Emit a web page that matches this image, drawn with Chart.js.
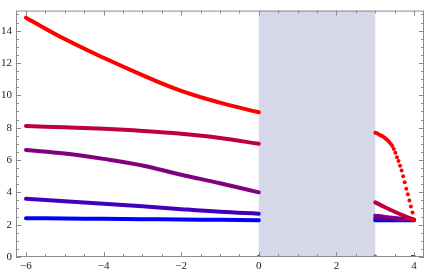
<!DOCTYPE html>
<html>
<head>
<meta charset="utf-8">
<script src="https://cdn.jsdelivr.net/npm/chart.js@4/dist/chart.umd.min.js"></script>
<style>
  html, body { margin: 0; padding: 0; background: #fff; }
  #wrap { width: 428px; height: 273px; }
</style>
</head>
<body>
<div id="wrap"><canvas id="chart"></canvas></div>
<script>
// DATA
const leftX = [-6, -5, -4, -3, -2, -1, 0];
const redLeft = [14.8, 13.48, 12.32, 11.25, 10.28, 9.55, 8.95];
const crimsonLeft = [8.1, 8.02, 7.93, 7.8, 7.62, 7.36, 7.0];
const purpleLeft = [6.62, 6.4, 6.07, 5.66, 5.09, 4.56, 4.0];
const indigoLeft = [3.6, 3.45, 3.3, 3.14, 2.96, 2.8, 2.68];
const blueLeft = [2.4, 2.38, 2.36, 2.34, 2.32, 2.3, 2.28];

const rightX = [3, 3.25, 3.5, 3.75, 4];
const crimsonRight = [3.38, 3.08, 2.8, 2.54, 2.3];
const purpleRight = [2.56, 2.48, 2.41, 2.35, 2.3];
const indigoRight = [2.4, 2.37, 2.34, 2.32, 2.3];
const blueRight = [2.28, 2.28, 2.28, 2.28, 2.28];

const redDotsX = [3.00, 3.04, 3.08, 3.12, 3.16, 3.20, 3.24, 3.28, 3.32, 3.36, 3.40, 3.44, 3.48,
  3.52, 3.56, 3.60, 3.64, 3.68, 3.72, 3.76, 3.80, 3.84, 3.88, 3.92, 3.96, 4.00];
const redDots = [7.68, 7.65, 7.6, 7.55, 7.5, 7.45, 7.38, 7.3, 7.22, 7.12, 7.0, 6.86, 6.68,
  6.45, 6.17, 5.93, 5.65, 5.35, 5.0, 4.62, 4.22, 3.88, 3.5, 3.12, 2.75, 2.3];

const axisDotsX = [0, 3, 3.96, 4];
const axisDots = [0, 0, 0, 0];

const gapRange = [0, 3];
const xTicks = [-6, -4, -2, 0, 2, 4];
const yTicks = [0, 2, 4, 6, 8, 10, 12, 14];

// COLORS
const RED = 'rgb(255,0,0)';
const CRIMSON = 'rgb(191,0,64)';
const PURPLE = 'rgb(128,0,128)';
const INDIGO = 'rgb(64,0,191)';
const BLUE = 'rgb(0,0,255)';
const SERIF = "'Liberation Serif', 'Times New Roman', 'DejaVu Serif', serif";

const pts = (xs, ys) => xs.map((x, i) => ({x: x, y: ys[i]}));

const lineSet = (xs, ys, color) => ({
  data: pts(xs, ys),
  borderColor: color,
  backgroundColor: color,
  borderWidth: 4,
  borderCapStyle: 'round',
  pointRadius: 0,
  showLine: true,
  tension: 0.4
});

// shaded band + frame with inward ticks
const framePlugin = {
  id: 'frame',
  beforeDatasetsDraw(chart) {
    const {ctx, chartArea: a, scales: {x}} = chart;
    const x0 = x.getPixelForValue(gapRange[0]);
    const x1 = x.getPixelForValue(gapRange[1]);
    ctx.save();
    ctx.fillStyle = 'rgb(214,216,234)';
    ctx.fillRect(x0, a.top, x1 - x0, a.bottom - a.top);
    ctx.restore();
  },
  afterDraw(chart) {
    const {ctx, chartArea: a, scales: {x, y}} = chart;
    ctx.save();
    ctx.strokeStyle = '#8c8c8c';
    ctx.lineWidth = 1;
    ctx.strokeRect(a.left + 0.5, a.top + 0.5, a.right - a.left - 1, a.bottom - a.top - 1);
    ctx.beginPath();
    for (let v = -6; v <= 4.2; v += 0.5) {
      const px = Math.round(x.getPixelForValue(v)) + 0.5;
      const len = (v % 2 === 0) ? 5 : 3;
      ctx.moveTo(px, a.bottom); ctx.lineTo(px, a.bottom - len);
      ctx.moveTo(px, a.top); ctx.lineTo(px, a.top + len);
    }
    for (let v = 0; v <= 15.2; v += 0.5) {
      const py = Math.round(y.getPixelForValue(v)) + 0.5;
      const len = (v % 2 === 0) ? 5 : 3;
      ctx.moveTo(a.left, py); ctx.lineTo(a.left + len, py);
      ctx.moveTo(a.right, py); ctx.lineTo(a.right - len, py);
    }
    ctx.stroke();
    ctx.restore();
  }
};

const fmt = (v) => v < 0 ? '\u2212' + Math.abs(v) : String(v);

new Chart(document.getElementById('chart'), {
  type: 'scatter',
  data: {
    datasets: [
      lineSet(leftX, redLeft, RED),
      lineSet(leftX, crimsonLeft, CRIMSON),
      lineSet(leftX, purpleLeft, PURPLE),
      lineSet(leftX, indigoLeft, INDIGO),
      lineSet(leftX, blueLeft, BLUE),
      {
        data: pts(redDotsX, redDots),
        showLine: false,
        pointRadius: 2,
        pointBorderWidth: 0,
        backgroundColor: RED,
        borderColor: RED
      },
      lineSet(rightX, crimsonRight, CRIMSON),
      lineSet(rightX, purpleRight, PURPLE),
      lineSet(rightX, indigoRight, INDIGO),
      lineSet(rightX, blueRight, BLUE),
      {
        data: pts(axisDotsX, axisDots),
        showLine: false,
        pointRadius: 2,
        pointBorderWidth: 0,
        backgroundColor: BLUE,
        borderColor: BLUE
      }
    ]
  },
  options: {
    responsive: true,
    maintainAspectRatio: false,
    animation: false,
    layout: { padding: { top: 2, right: 3, left: 0, bottom: 0 } },
    plugins: { legend: { display: false }, tooltip: { enabled: false } },
    scales: {
      x: {
        type: 'linear',
        min: -6.257,
        max: 4.257,
        afterBuildTicks: (s) => { s.ticks = xTicks.map(v => ({value: v})); },
        afterFit: (s) => { s.height = 16; },
        grid: { display: false, drawTicks: false },
        border: { display: false },
        ticks: {
          padding: 3,
          maxRotation: 0,
          autoSkip: false,
          color: '#222',
          font: { family: SERIF, size: 11 },
          callback: fmt
        }
      },
      y: {
        type: 'linear',
        min: 0,
        max: 15.24,
        afterBuildTicks: (s) => { s.ticks = yTicks.map(v => ({value: v})); },
        afterFit: (s) => { s.width = 16; },
        grid: { display: false, drawTicks: false },
        border: { display: false },
        ticks: {
          padding: 4,
          autoSkip: false,
          color: '#222',
          font: { family: SERIF, size: 11 },
          callback: fmt
        }
      }
    }
  },
  plugins: [framePlugin]
});
</script>
</body>
</html>
